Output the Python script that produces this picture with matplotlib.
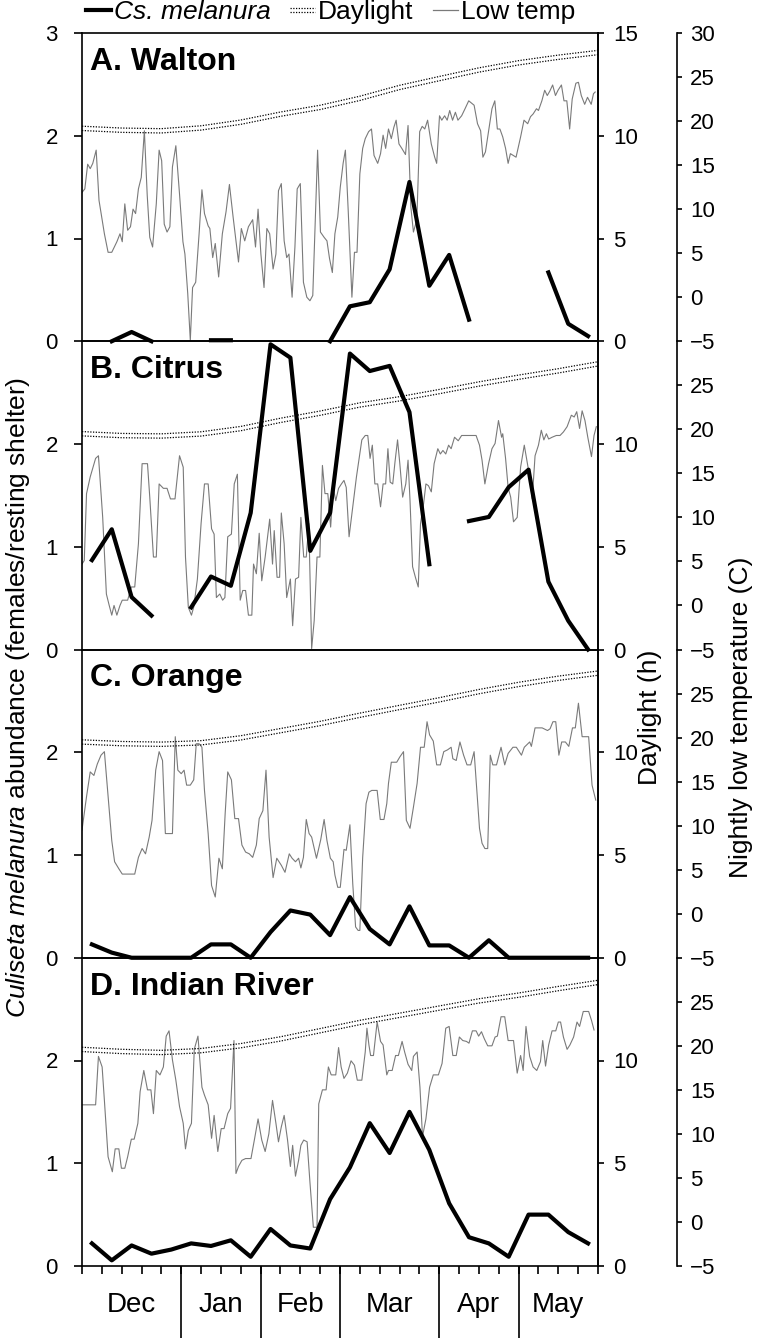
"""
Culiseta melanura abundance, daylight and nightly low temperature at four sites.
"""
import numpy as np
import matplotlib
matplotlib.use("Agg")
import matplotlib.pyplot as plt
from matplotlib import transforms
from matplotlib.legend_handler import HandlerBase
from matplotlib.lines import Line2D

plt.rcParams["font.family"] = ["Liberation Sans", "DejaVu Sans"]
plt.rcParams["mathtext.fontset"] = "custom"
plt.rcParams["mathtext.it"] = "Liberation Sans:italic"
plt.rcParams["mathtext.rm"] = "Liberation Sans"

sites = ["A. Walton", "B. Citrus", "C. Orange", "D. Indian River"]
months = ["Dec", "Jan", "Feb", "Mar", "Apr", "May"]
month_edges = [0, 35, 63, 91, 126, 154, 182]  # days since start of season
n_days = 182

# weekly mean females per resting shelter (NaN = no collection)
nan = np.nan
melanura_walton = [nan, 0.0, 0.09, 0.0, nan, nan, 0.01, 0.01, nan, nan, nan, nan, 0.0,
                   0.34, 0.38, 0.70, 1.55, 0.54, 0.84, 0.21, nan, nan, nan, 0.67, 0.17, 0.05]
melanura_citrus = [0.87, 1.17, 0.51, 0.33, nan, 0.41, 0.71, 0.62, 1.33, 2.97, 2.84, 0.96, 1.33,
                   2.88, 2.71, 2.76, 2.31, 0.83, nan, 1.25, 1.29, 1.58, 1.75, 0.66, 0.28, 0.0]
melanura_orange = [0.13, 0.05, 0.0, 0.0, 0.0, 0.0, 0.13, 0.13, 0.0, 0.25, 0.46, 0.42, 0.22,
                   0.59, 0.28, 0.13, 0.50, 0.12, 0.12, 0.0, 0.17, 0.0, 0.0, 0.0, 0.0, 0.0]
melanura_indian = [0.22, 0.055, 0.20, 0.12, 0.16, 0.22, 0.195, 0.25, 0.09, 0.36, 0.20, 0.17, 0.65,
                   0.96, 1.39, 1.10, 1.50, 1.13, 0.61, 0.28, 0.22, 0.09, 0.50, 0.50, 0.33, 0.22]

# daylight (h), every two weeks
daylight_days = [0, 14, 28, 42, 56, 70, 84, 98, 112, 126, 140, 154, 168, 182]
daylight_walton = [10.36, 10.27, 10.24, 10.38, 10.66, 11.05, 11.38, 11.82, 12.35, 12.78, 13.20, 13.55, 13.82, 14.05]
daylight_citrus = [10.50, 10.41, 10.39, 10.49, 10.75, 11.15, 11.50, 11.90, 12.20, 12.55, 12.92, 13.25, 13.56, 13.90]
daylight_orange = [10.50, 10.42, 10.39, 10.46, 10.70, 11.05, 11.40, 11.80, 12.18, 12.55, 12.95, 13.30, 13.60, 13.85]
daylight_indian = [10.54, 10.44, 10.39, 10.48, 10.72, 11.05, 11.45, 11.85, 12.20, 12.55, 12.90, 13.18, 13.50, 13.80]

# nightly low temperature (C): (day, value)
temp_walton = [
    (0, 11.9), (1, 12.3), (2, 15.1), (2.9, 14.6), (3.8, 15.2), (5, 16.7), (6, 11.0), (7.9, 7.2),
    (9.2, 5.1), (10.5, 5.1), (12.3, 6.3), (13.4, 7.2), (14.2, 6.3), (15.1, 10.6), (16.1, 7.6),
    (17.1, 8.0), (18, 10.0), (18.9, 9.5), (19.9, 12.3), (20.9, 13.6), (22, 18.9), (23, 11.6),
    (23.9, 6.8), (24.9, 5.7), (26.2, 10.6), (27.2, 16.7), (28.1, 15.5), (29, 8.3), (30, 7.4),
    (31, 8.0), (31.9, 14.8), (33.1, 17.2), (34.4, 11.7), (35.6, 6.3), (36.3, 4.9), (37.3, 0.4),
    (38.2, -4.9), (39, 1.1), (40.1, 1.7), (41.3, 7.2), (42.3, 12.2), (43.2, 9.5), (44.5, 8.1),
    (45.1, 7.8), (46.1, 4.5), (47, 6.1), (48.2, 2.3), (49.5, 7.2), (50.8, 9.7), (52, 12.8),
    (53.3, 9.1), (55.2, 4.0), (56.2, 7.8), (57.4, 6.4), (58.7, 8.0), (60.2, 8.8), (61.2, 5.7),
    (62.1, 10.0), (63.1, 4.9), (64.2, 1.1), (65.2, 7.8), (66.2, 7.2), (67.4, 3.2), (68.4, 4.9),
    (69.3, 12.1), (70.3, 12.9), (71.3, 6.4), (72.2, 4.5), (73, 4.9), (74.1, 0.0), (75.1, 5.7),
    (75.9, 12.3), (77, 12.9), (78.1, 1.7), (79.3, 0.0), (80.4, -0.4), (81.4, 0.2), (82.2, 8.0),
    (83.1, 16.7), (84.1, 7.4), (85.4, 6.8), (86.4, 6.4), (87.3, 4.4), (88.3, 2.8), (89.2, 7.2),
    (90.2, 9.1), (91.1, 12.5), (92.1, 15.2), (92.9, 16.7), (93.9, 9.8), (95.2, 0.0), (96.1, 5.1),
    (97, 5.1), (98, 14.0), (99, 16.9), (99.9, 18.0), (101.1, 18.8), (102.1, 19.1), (103, 16.1),
    (104.3, 15.2), (105.3, 16.3), (106.2, 18.4), (107.1, 16.9), (108.1, 19.1), (109.1, 18.0),
    (110, 19.3), (110.8, 20.1), (111.8, 17.4), (112.8, 16.9), (114.1, 16.2), (115, 19.5),
    (116, 10.2), (116.9, 7.4), (118.1, 8.8), (119.1, 18.8), (120, 19.4), (120.9, 19.1),
    (121.9, 20.1), (123.2, 17.4), (124.4, 15.9), (125.1, 15.2), (126.1, 20.6), (126.9, 20.1),
    (127.9, 20.6), (128.8, 20.1), (129.7, 21.2), (130.7, 20.1), (131.7, 21.0), (132.6, 20.1),
    (133.9, 20.6), (135.1, 21.4), (136.4, 22.3), (138.3, 21.8), (139.5, 19.7), (140.6, 18.9),
    (141.4, 15.9), (142.3, 16.5), (143.3, 18.6), (144.6, 21.4), (145.6, 22.3), (146.5, 19.1),
    (147.4, 19.1), (148.4, 18.2), (149.4, 16.9), (150.3, 15.2), (151.1, 16.3), (152.1, 16.1),
    (153.1, 15.9), (154.7, 18.2), (155.9, 20.1), (157.2, 19.7), (158.2, 20.5), (159.1, 20.8),
    (160.3, 21.4), (161, 21.2), (162.2, 22.3), (163.2, 23.5), (164.1, 22.9), (165, 23.4),
    (166, 24.1), (167, 22.9), (167.9, 23.5), (169.1, 24.1), (170, 22.3), (171, 22.3), (172, 19.1),
    (172.9, 22.5), (174.2, 24.3), (175.1, 24.4), (176.1, 22.9), (177.3, 21.9), (178.3, 22.7),
    (179.6, 21.9), (180.4, 23.1), (181, 23.3),
]
temp_citrus = [
    (0, 4.7), (0.8, 5.1), (1.6, 12.7), (2.9, 14.6), (4.8, 16.7), (5.8, 17.0), (7.3, 10.0),
    (8.6, 1.3), (9.6, 0.0), (10.5, -1.1), (11.3, 0.0), (12.3, -1.1), (13.4, 0.0), (14.2, 0.6),
    (16.1, 0.6), (17.4, 2.1), (18.6, 2.1), (19.9, 7.0), (21.2, 16.1), (23.1, 16.1), (23.9, 12.3),
    (25.2, 5.5), (26.2, 5.5), (27.2, 13.8), (28.7, 13.3), (30.0, 13.3), (31.2, 12.1), (32.8, 12.1),
    (34.4, 17.0), (35.7, 15.7), (36.5, 5.5), (37.5, -0.2), (38.6, -1.1), (39.4, -0.2), (40.7, 3.0),
    (42.0, 9.3), (43.2, 13.8), (44.5, 13.8), (45.7, 8.7), (46.6, 8.1), (47.4, 0.9), (48.6, 1.3),
    (49.6, 0.6), (50.4, 0.9), (51.4, 7.8), (52.7, 8.1), (53.7, 13.8), (54.8, 14.9), (55.8, 0.6),
    (56.7, 1.7), (57.7, 1.7), (58.7, -1.1), (59.9, -1.1), (60.5, 4.7), (61.5, 3.6), (62.5, 8.2),
    (63.4, 2.8), (64.6, 5.5), (66.2, 9.8), (67.2, 4.7), (67.8, 8.5), (68.8, 3.2), (69.7, 3.2),
    (70.3, 10.5), (71.3, 7.0), (72.2, 0.9), (73.5, 3.0), (74.3, -2.3), (75.3, 3.0), (76.4, 3.2),
    (77.2, 10.0), (78.2, 5.5), (79.1, 5.5), (80.0, 9.3), (81.0, -4.9), (81.9, -1.7), (82.9, 5.5),
    (83.9, 5.5), (84.8, 15.9), (85.7, 12.7), (86.7, 12.7), (87.7, 8.9), (88.6, 13.4), (89.5, 11.9),
    (90.5, 13.3), (91.5, 13.8), (92.4, 14.2), (93.2, 13.4), (94.2, 7.8), (95.5, 11.2), (96.8, 14.6),
    (98.7, 18.8), (99.9, 19.3), (100.8, 19.3), (101.6, 16.7), (102.4, 18.2), (103.3, 13.8),
    (104.3, 13.8), (105.3, 11.2), (106.2, 13.8), (107.1, 13.8), (107.9, 17.8), (108.7, 14.0),
    (109.6, 13.8), (110.4, 16.3), (111.3, 18.8), (112.1, 16.1), (113.1, 12.3), (114.2, 13.8),
    (115.0, 16.5), (115.7, 11.9), (116.6, 4.4), (117.6, 3.2), (118.6, 2.1), (119.4, 9.3),
    (120.5, 11.6), (121.3, 13.8), (122.2, 13.6), (123.2, 12.9), (124.2, 16.1), (125.5, 17.8),
    (126.4, 17.2), (127.3, 17.6), (128.3, 17.2), (129.3, 18.2), (130.2, 17.8), (131.4, 19.1),
    (132.7, 18.7), (133.9, 19.3), (135.2, 19.3), (139.0, 19.3), (140.2, 18.2), (141.1, 16.5),
    (142.1, 13.8), (143.4, 16.1), (144.6, 17.8), (145.7, 18.4), (146.9, 21.0), (148.0, 19.1),
    (148.4, 19.5), (149.4, 16.7), (150.3, 13.4), (151.2, 12.3), (152.2, 9.5), (153.5, 10.0),
    (154.7, 15.7), (156.0, 18.2), (157.0, 16.3), (157.9, 14.6), (158.8, 12.1), (159.8, 17.0),
    (161.0, 18.2), (162.0, 19.9), (162.9, 18.8), (163.8, 19.5), (164.6, 18.9), (165.8, 19.1),
    (167.3, 19.3), (168.6, 19.3), (169.8, 19.7), (171.1, 20.3), (172.6, 21.6), (173.6, 21.4),
    (174.5, 22.0), (175.5, 20.1), (176.4, 22.1), (177.4, 21.0), (178.4, 19.1), (179.7, 16.9),
    (180.6, 19.3), (181.4, 20.3),
]
temp_orange = [
    (0, 9.5), (1.6, 13.3), (2.9, 16.1), (4.2, 15.7), (5.4, 17.0), (6.7, 18.0), (7.9, 18.4),
    (9.2, 13.3), (10.5, 8.3), (11.5, 5.9), (13.0, 5.1), (14.2, 4.5), (16.1, 4.5), (18.6, 4.5),
    (19.9, 6.4), (21.2, 7.4), (22.4, 6.8), (23.7, 8.7), (24.7, 10.6), (26.0, 16.3), (27.2, 18.4),
    (28.4, 17.4), (29.4, 9.1), (31.2, 9.1), (31.9, 9.1), (32.9, 20.1), (33.8, 16.3), (35.0, 15.9),
    (36.0, 16.3), (36.9, 14.6), (38.2, 14.6), (39.4, 15.2), (40.3, 19.3), (41.3, 19.3), (42.3, 18.9),
    (43.2, 14.0), (44.5, 9.1), (45.7, 3.2), (47.0, 1.9), (48.3, 6.3), (49.5, 5.1), (50.5, 11.4),
    (51.4, 16.1), (52.7, 15.2), (53.9, 10.8), (55.2, 10.8), (56.4, 7.8), (57.7, 7.0), (59.0, 6.8),
    (60.2, 6.4), (61.5, 7.8), (62.5, 10.8), (63.8, 11.7), (64.9, 16.3), (66.0, 8.7), (67.4, 4.1),
    (68.7, 6.3), (70.3, 5.5), (71.6, 4.7), (73.1, 6.8), (74.1, 6.3), (75.3, 5.9), (76.4, 6.3),
    (77.2, 5.2), (78.1, 6.4), (79.1, 10.7), (80.1, 9.1), (81.0, 8.7), (82.7, 6.3), (84.2, 8.4),
    (85.4, 10.7), (86.4, 8.3), (87.6, 6.3), (88.6, 5.9), (89.2, 4.4), (90.2, 3.0), (91.1, 3.0),
    (92.4, 7.3), (93.2, 7.2), (94.5, 10.1), (95.5, 3.4), (96.5, -1.5), (97.4, -1.9), (98.0, -1.9),
    (99.0, 6.4), (100.2, 12.5), (101.2, 13.8), (102.2, 14.0), (104.1, 14.0), (105.2, 10.7),
    (106.5, 10.7), (107.5, 12.5), (108.1, 14.8), (109.1, 17.2), (111.0, 17.2), (112.1, 17.8),
    (113.4, 18.4), (114.4, 10.6), (115.7, 9.7), (116.9, 12.1), (118.2, 14.8), (119.4, 18.9),
    (120.7, 18.9), (121.7, 21.8), (122.6, 20.3), (123.9, 19.6), (125.1, 16.9), (126.4, 16.9),
    (127.6, 18.4), (128.9, 18.6), (130.2, 18.9), (130.8, 17.6), (132.0, 17.4), (133.3, 19.5),
    (134.6, 18.0), (135.8, 16.9), (137.1, 16.9), (138.3, 18.4), (139.0, 15.2), (140.2, 9.7),
    (141.1, 8.0), (142.1, 7.4), (143.1, 7.4), (144.0, 18.0), (144.9, 16.9), (146.2, 16.9),
    (147.8, 18.9), (149.1, 16.9), (150.3, 18.2), (152.0, 18.9), (153.2, 18.9), (155.0, 18.0),
    (156.0, 18.9), (157.9, 19.5), (158.5, 19.0), (159.8, 21.1), (161.0, 21.1), (162.3, 21.1),
    (164.2, 20.8), (165.1, 21.0), (166.1, 21.8), (167.1, 21.8), (168.2, 18.0), (169.2, 19.5),
    (170.5, 19.5), (171.7, 19.0), (173.0, 21.1), (174.0, 21.1), (175.1, 23.9), (176.4, 20.1),
    (177.4, 20.1), (178.7, 20.1), (179.9, 14.6), (181.2, 12.9),
]
temp_indian = [
    (0, 13.3), (2.3, 13.3), (4.8, 13.3), (5.8, 18.8), (7.1, 17.6), (7.9, 13.8), (9.2, 7.4),
    (10.7, 5.7), (11.7, 8.3), (13.0, 8.3), (13.9, 6.1), (15.1, 6.1), (16.1, 7.4), (17.4, 9.4),
    (18.4, 9.4), (19.7, 11.2), (20.5, 14.8), (21.8, 17.2), (23.1, 15.0), (24.3, 15.0), (25.2, 12.3),
    (26.2, 17.2), (27.5, 16.7), (28.7, 17.6), (29.7, 21.1), (30.7, 21.7), (31.9, 18.4), (33.1, 16.1),
    (34.4, 13.1), (35.7, 11.2), (36.5, 8.3), (37.5, 10.4), (38.6, 11.2), (39.6, 19.6), (40.9, 21.1),
    (42.3, 15.3), (43.2, 14.4), (44.5, 13.3), (45.7, 9.5), (46.6, 12.1), (47.9, 8.0), (49.1, 10.6),
    (50.1, 10.6), (51.4, 12.3), (52.4, 12.9), (53.6, 20.6), (54.3, 5.5), (55.2, 6.3), (56.4, 7.0),
    (57.7, 7.2), (59.6, 7.2), (60.9, 9.5), (62.1, 11.7), (63.4, 9.3), (64.6, 8.0), (65.9, 10.0),
    (67.2, 13.8), (68.4, 11.2), (69.3, 9.1), (70.3, 10.8), (71.3, 12.1), (72.5, 9.3), (73.5, 6.3),
    (74.3, 8.7), (75.3, 5.2), (76.4, 7.0), (77.2, 8.7), (78.2, 9.3), (79.4, 9.1), (80.4, 4.5),
    (81.6, -0.6), (82.9, -0.6), (83.5, 13.4), (84.8, 15.0), (86.1, 15.0), (86.9, 17.6), (87.9, 16.7),
    (88.6, 16.7), (89.5, 16.7), (90.5, 19.8), (91.4, 17.6), (92.4, 16.3), (93.6, 16.9), (94.9, 18.3),
    (96.1, 17.8), (97.1, 16.1), (98.7, 16.1), (99.9, 19.3), (100.5, 22.0), (101.2, 20.1),
    (101.8, 18.9), (102.8, 18.9), (104.1, 22.7), (105.3, 20.5), (106.2, 20.1), (107.5, 16.7),
    (108.1, 17.2), (109.4, 17.2), (110.6, 18.9), (111.6, 18.9), (112.9, 20.5), (113.8, 19.3),
    (115.0, 17.9), (116.3, 17.2), (116.9, 18.8), (118.2, 19.3), (119.2, 15.3), (120.1, 9.7),
    (121.3, 11.7), (122.6, 15.3), (123.9, 16.7), (125.7, 16.7), (127.0, 18.0), (128.3, 22.0),
    (129.5, 22.2), (130.8, 18.9), (132.0, 18.9), (133.1, 21.0), (134.3, 20.6), (135.6, 20.5),
    (136.5, 20.3), (137.7, 21.7), (139.0, 21.7), (139.9, 21.1), (140.9, 21.6), (141.9, 20.8),
    (143.1, 20.0), (144.6, 20.0), (145.7, 21.0), (146.5, 21.1), (147.8, 23.3), (149.1, 23.3),
    (150.3, 20.6), (152.2, 20.6), (153.5, 16.9), (154.7, 18.9), (155.6, 17.2), (156.6, 22.2),
    (157.9, 18.8), (159.1, 17.6), (160.4, 17.2), (161.7, 18.2), (162.5, 20.6), (163.5, 17.7),
    (164.6, 20.1), (165.8, 21.7), (167.1, 21.7), (168.0, 22.7), (168.8, 22.7), (169.8, 21.0),
    (171.1, 19.6), (172.1, 20.1), (173.4, 21.0), (174.6, 22.7), (175.5, 22.2), (176.8, 23.9),
    (178.7, 23.9), (179.7, 22.9), (180.6, 21.8),
]

melanura = [melanura_walton, melanura_citrus, melanura_orange, melanura_indian]
daylight = [daylight_walton, daylight_citrus, daylight_orange, daylight_indian]
temps = [temp_walton, temp_citrus, temp_orange, temp_indian]

week_mid = np.arange(3.5, n_days, 7)  # collections plotted mid-week
TEMP_GREY = "#7a7a7a"


class DoubleDotHandler(HandlerBase):
    """Legend key for the double dotted daylight line."""

    def create_artists(self, legend, orig_handle, xdescent, ydescent, width, height, fontsize, trans):
        y0 = height / 2 - ydescent
        arts = []
        for dy in (-1.6, 1.6):
            ln = Line2D([-xdescent, width - xdescent], [y0 + dy, y0 + dy], color="black",
                        lw=0.9, linestyle=(0, (1, 1.2)))
            ln.set_transform(trans)
            arts.append(ln)
        return arts


fig = plt.figure(figsize=(7.6, 13.41), dpi=100)
left, width = 82 / 760, 516 / 760
ph = 308.25 / 1341
bottom0 = 1 - 1266 / 1341

for i in range(4):
    ax = fig.add_axes([left, bottom0 + (3 - i) * ph, width, ph])
    axd = ax.twinx()
    axt = ax.twinx()
    ax.set_zorder(3)
    ax.patch.set_visible(False)
    axd.set_zorder(2)
    axt.set_zorder(1)

    tday, tval = np.array(temps[i]).T
    axt.plot(tday, tval, color=TEMP_GREY, lw=0.8)

    for dy in (-1.55, 1.55):
        tr = transforms.offset_copy(axd.transData, fig=fig, y=dy, units="points")
        axd.plot(daylight_days, daylight[i], transform=tr, color="black", lw=0.9,
                 linestyle=(0, (1, 1.2)))

    ax.plot(week_mid, melanura[i], color="black", lw=3, clip_on=False)

    ax.set_xlim(0, n_days)
    ax.set_ylim(0, 3)
    axd.set_ylim(0, 15)
    axt.set_ylim(-5, 30)

    ax.set_yticks([0, 1, 2, 3] if i == 0 else [0, 1, 2])
    axd.set_yticks([0, 5, 10, 15] if i == 0 else [0, 5, 10])
    axt.set_yticks(np.arange(-5, 31, 5) if i == 0 else np.arange(-5, 26, 5))

    for sp in ax.spines.values():
        sp.set_linewidth(1.2)
    for name in ["left", "top", "bottom"]:
        axd.spines[name].set_visible(False)
        axt.spines[name].set_visible(False)
    axd.spines["right"].set_linewidth(1.2)
    axt.spines["right"].set_position(("axes", 1.153))
    axt.spines["right"].set_linewidth(1.2)

    ax.tick_params(axis="y", direction="out", length=5.8, width=1.2, pad=11.5, labelsize=16)
    axd.tick_params(axis="y", direction="out", length=4.3, width=1.2, pad=6.5, labelsize=16)
    axt.tick_params(axis="y", direction="out", length=3.6, width=1.2, pad=5.8, labelsize=16)

    ax.text(0.016, 0.955, sites[i], transform=ax.transAxes, ha="left", va="top",
            fontsize=23, fontweight="bold")

    if i < 3:
        ax.tick_params(axis="x", which="both", bottom=False, labelbottom=False)
    else:
        ax.set_xticks(np.arange(0, n_days + 1, 7))
        ax.tick_params(axis="x", direction="out", length=5.8, width=1.2, labelbottom=False)
        sec = ax.secondary_xaxis("bottom")
        sec.set_xticks(month_edges[1:-1])
        sec.tick_params(axis="x", direction="out", length=52, width=1.2, labelbottom=False)
        sec.spines["bottom"].set_visible(False)
        sec2 = ax.secondary_xaxis("bottom")
        centers = [(a + b) / 2 for a, b in zip(month_edges[:-1], month_edges[1:])]
        sec2.set_xticks(centers, months)
        sec2.tick_params(axis="x", length=0, pad=18.5, labelsize=20)
        sec2.spines["bottom"].set_visible(False)

fig.text(18 / 760, 1 - 697 / 1341,
         r"$\mathit{Culiseta\ melanura}$ abundance (females/resting shelter)",
         rotation=90, ha="center", va="center", fontsize=19)
fig.text(650 / 760, 1 - 717 / 1341, "Daylight (h)", rotation=90, ha="center", va="center",
         fontsize=19)
fig.text(741 / 760, 1 - 717 / 1341, "Nightly low temperature (C)", rotation=90, ha="center",
         va="center", fontsize=19)

h_mel = Line2D([], [], color="black", lw=3)
h_day = Line2D([], [], color="black")
h_temp = Line2D([], [], color=TEMP_GREY, lw=0.9)
leg = fig.legend([h_mel, h_day, h_temp], ["Cs. melanura", "Daylight", "Low temp"],
                 handler_map={h_day: DoubleDotHandler()}, loc="center left",
                 bbox_to_anchor=(86 / 760, 1 - 12 / 1341), ncol=3, frameon=False, fontsize=19,
                 handlelength=0.95, handletextpad=0.1, columnspacing=0.75, borderpad=0,
                 borderaxespad=0)
leg.get_texts()[0].set_fontstyle("italic")

fig.savefig("out.png", dpi=100)
